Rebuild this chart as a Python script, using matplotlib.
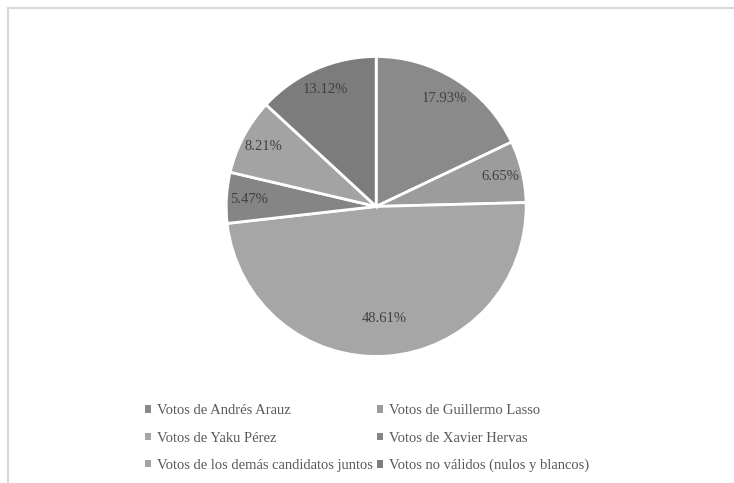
import matplotlib.pyplot as plt
from matplotlib.patches import Rectangle

labels = ["Votos de Andrés Arauz", "Votos de Guillermo Lasso", "Votos de Yaku Pérez",
          "Votos de Xavier Hervas", "Votos de los demás candidatos juntos",
          "Votos no válidos (nulos y blancos)"]
values = [17.93, 6.65, 48.61, 5.47, 8.21, 13.12]
colors = ["#8a8a8a", "#9c9c9c", "#a6a6a6", "#858585", "#a3a3a3", "#7c7c7c"]

plt.rcParams["font.family"] = ["Liberation Serif", "DejaVu Serif"]

fig = plt.figure(figsize=(7.34, 4.83), dpi=100)
fig.patches.append(Rectangle((8 / 734, -0.05), 1.1, (483 - 8) / 483 + 0.05,
                             transform=fig.transFigure, fill=False,
                             edgecolor="#d9d9d9", linewidth=1.5))

ax = fig.add_axes([0.308, 0.262, 0.409, 0.621])
wedges, texts, autotexts = ax.pie(values, colors=colors, startangle=90, counterclock=False,
                                  autopct=lambda p: "%.2f%%" % p, pctdistance=0.85,
                                  wedgeprops=dict(edgecolor="white", linewidth=2))
for t in autotexts:
    t.set_color("#404040")
    t.set_fontsize(10.5)
# the big slice label sits closer to the centre
x, y = autotexts[2].get_position()
autotexts[2].set_position((x * 0.75 / 0.85, y * 0.75 / 0.85))
ax.set_xlim(-1, 1)
ax.set_ylim(-1, 1)
ax.set_aspect("equal")

order = [0, 2, 4, 1, 3, 5]
leg = fig.legend([wedges[i] for i in order], [labels[i] for i in order],
                 ncol=2, loc="upper left", bbox_to_anchor=(0.18, 0.19),
                 frameon=False, fontsize=10.5, handlelength=0.4, handleheight=0.4,
                 handletextpad=0.4, columnspacing=0.3, labelspacing=0.98,
                 labelcolor="#595959")
for h in leg.legend_handles:
    h.set_linewidth(0)

fig.savefig("out.png", dpi=100)
plt.close(fig)
